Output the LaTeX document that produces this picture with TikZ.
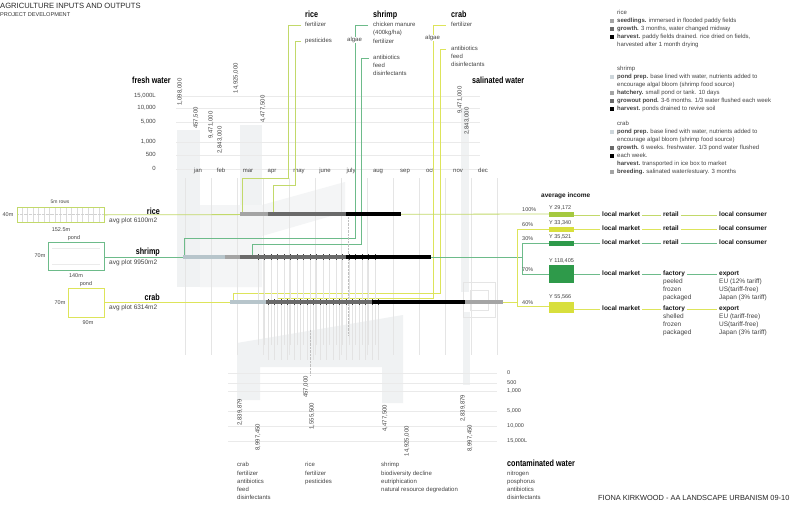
\documentclass[tikz,border=0pt]{standalone}
\usepackage{fontspec}
\setmainfont{Liberation Sans}
\definecolor{ricec}{HTML}{C2D96A}
\definecolor{shrc}{HTML}{6DBB8A}
\definecolor{crabc}{HTML}{DDE45A}
\definecolor{fw}{HTML}{F0F2F3}
\definecolor{pondc}{HTML}{B7C5CB}
\definecolor{lgc}{HTML}{A4A4A4}
\definecolor{dgc}{HTML}{6A6A6A}
\definecolor{gridc}{HTML}{EAEAEA}
\definecolor{txt}{HTML}{444444}
\definecolor{incY}{HTML}{A5C93F}
\definecolor{incYe}{HTML}{D8DF3D}
\definecolor{incG}{HTML}{2E9A4A}
\newcommand\fs[1]{\fontsize{#1}{#1}\selectfont}
\newcommand\hdt[1]{\scalebox{0.8}[1]{\fontsize{9}{9}\selectfont\bfseries #1}}
\begin{document}
\begin{tikzpicture}[x=1pt,y=-1pt,
  tx/.style={inner sep=0pt, anchor=west, font=\fs{6}, text=txt, text height=4.4pt, text depth=1.2pt},
  txe/.style={tx, anchor=east},
  txb/.style={tx, font=\fs{6.5}\bfseries, text=black!90},
  hd/.style={inner sep=0pt, anchor=west, text=black},
  rot/.style={inner sep=0pt, rotate=90, font=\fs{6}, text=txt},
  gl/.style={draw=gridc, line width=0.4pt},
  vl/.style={draw=black!10, line width=0.3pt},
  bar/.style={line width=4pt},
  rl/.style={draw=ricec, line width=0.8pt},
  sl/.style={draw=shrc, line width=0.8pt},
  cl/.style={draw=crabc, line width=0.8pt},
  sq/.style={inner sep=0pt, minimum size=3.6pt},
  wb/.style={fill=white}]
\useasboundingbox (0,0) rectangle (800,509);
\fill[white] (0,0) rectangle (800,509);

% ---------- water usage shapes ----------
\fill[fw] (177,130) rectangle (200,287);
\fill[fw] (240,125) rectangle (262,205);
\fill[fw!75] (200,205) -- (262,205) -- (345,182) -- (345,212) -- (262,236) -- (262,287) -- (200,287) -- cycle;
\fill[fw] (461,108) rectangle (469,292);
\fill[fw] (237,343) -- (403,315) -- (403,403) -- (382,403) -- (382,367) -- (260,367) -- (260,400) -- (237,400) -- cycle;
\fill[fw] (463,312) rectangle (470,385);
\draw[black!10, line width=0.3pt] (463,282) rectangle (495,317) (470,290) rectangle (488,310);

% ---------- grid lines ----------
\foreach \y in {96,108,122,142,155,169} \draw[gl] (176,\y) -- (480,\y);
\foreach \y in {373,383,391,411,426,441} \draw[gl] (228,\y) -- (497,\y);
\foreach \x in {185,211,...,497} \draw[vl] (\x,178) -- (\x,355);

% ---------- title ----------
\node[inner sep=0pt, anchor=west, font=\fs{7.6}, text=black!85] (title) at (0,6) {AGRICULTURE INPUTS AND OUTPUTS};
\node[inner sep=0pt, anchor=west, font=\fs{5.6}, text=black!80] (sub) at (0,14.5) {PROJECT DEVELOPMENT};
\node[inner sep=0pt, anchor=west, font=\fs{7.4}, text=black!85] (foot) at (598,498) {FIONA KIRKWOOD - AA LANDSCAPE URBANISM 09-10};

% ---------- fresh water scale ----------
\node[hd] (fwh) at (132,80) {\hdt{fresh water}};
\foreach \v/\y/\n in {15{,}000L/96/a,10{,}000/108/b,5{,}000/122/c,1{,}000/142/d,500/155/e,0/169/f}
  \node[txe] (fs\n) at (156,\y) {\v};
\node[rot] (n1) at (180,92) {1,098,000};
\node[rot] (n2) at (196,118) {457,500};
\node[rot] (n3) at (211,125) {9,471,000};
\node[rot] (n4) at (220,140) {2,843,000};
\node[rot] (n5) at (236,78) {14,925,000};
\node[rot] (n6) at (263,109) {4,477,500};
\node[rot] (n7) at (460,100) {9,471,000};
\node[rot] (n8) at (467,121) {2,843,000};
\node[hd] (swh) at (472,80) {\hdt{salinated water}};

% ---------- months ----------
\foreach \m/\x in {jan/198,feb/221,mar/248,apr/272,may/299,june/325,july/351,aug/378,sep/405,oct/430,nov/458,dec/483}
  \node[tx, anchor=center] (m\m) at (\x,171) {\m};

% ---------- top inputs ----------
\node[hd] (riceh) at (305,14) {\hdt{rice}};
\node[tx] (rfert) at (305,25) {fertilizer};
\node[tx] (rpest) at (305,41) {pesticides};
\node[hd] (shrh) at (373,15) {\hdt{shrimp}};
\node[tx] (sch) at (373,25) {chicken manure};
\node[tx] (s2) at (373,33) {(400kg/ha)};
\node[tx] (s3) at (373,42) {fertilizer};
\node[tx] (santi) at (373,58) {antibiotics};
\node[tx] (s5) at (373,66) {feed};
\node[tx] (s6) at (373,74) {disinfectants};
\node[hd] (crabh) at (451,14) {\hdt{crab}};
\node[tx] (cfert) at (451,25) {fertilizer};
\node[tx] (canti) at (451,49) {antibiotics};
\node[tx] (c3) at (451,57) {feed};
\node[tx] (c4) at (451,65) {disinfectants};

% input connectors
\draw[rl] ([xshift=-4pt]rfert.west) -| (288,178) -| (242,213);
\draw[rl] ([xshift=-4pt]rpest.west) -| (295,185) -| (273,213);
\draw[sl] ([xshift=-5pt]sch.west) -| (355,238) -| (184,255);
\draw[sl] ([xshift=-4pt]santi.west) -| (361,244) -| (252,255);
\draw[cl] ([xshift=-5pt]cfert.west) -| (433,298) -| (277,300);
\draw[cl] ([xshift=-5pt]canti.west) -| (440,293) -| (233,300);
\node[tx, wb] (salg) at (347,40) {algae};
\node[tx, wb] (calg) at (425,38) {algae};

% ---------- plots ----------
\foreach \x in {22,27.5,...,100} \draw[black!14, line width=0.3pt] (\x,207) -- (\x,222);
\draw[black!18, densely dotted, line width=0.3pt] (17,214.5) -- (104,214.5);
\node[draw=ricec, line width=0.7pt, inner sep=0pt, minimum width=87pt, minimum height=15pt, anchor=north west] (rplot) at (17,207) {};
\node[tx, font=\fs{5}, anchor=center] (r5m) at (60,202) {5m rows};
\node[tx, font=\fs{5.5}, anchor=center] (r40) at (8,215) {40m};
\node[tx, font=\fs{5.5}, anchor=center] (r152) at (61,230) {152.5m};
\node[hd, anchor=east] (riceL) at (160,211) {\hdt{rice}};
\node[tx, font=\fs{6.5}] (ravg) at (109,221) {avg plot 6100m2};

\node[draw=shrc, line width=0.7pt, inner sep=0pt, minimum width=56pt, minimum height=28pt, anchor=north west] (splot) at (48,242) {};
\draw[black!8, line width=0.3pt] (52,248) -- (100,248) (52,264) -- (100,264);
\node[tx, font=\fs{5.5}, anchor=center] (sp) at (74,238) {pond};
\node[tx, font=\fs{5.5}, anchor=center] (s70) at (40,256) {70m};
\node[tx, font=\fs{5.5}, anchor=center] (s140) at (76,276) {140m};
\node[hd, anchor=east] (shrL) at (160,252) {\hdt{shrimp}};
\node[tx, font=\fs{6.5}] (savg) at (109,263) {avg plot 9950m2};

\node[draw=crabc, line width=0.7pt, inner sep=0pt, minimum width=36pt, minimum height=29pt, anchor=north west] (cplot) at (68,288) {};
\node[tx, font=\fs{5.5}, anchor=center] (cp) at (86,284) {pond};
\node[tx, font=\fs{5.5}, anchor=center] (c70) at (60,303) {70m};
\node[tx, font=\fs{5.5}, anchor=center] (c90) at (88,323) {90m};
\node[hd, anchor=east] (crabL) at (160,297) {\hdt{crab}};
\node[tx, font=\fs{6.5}] (cavg) at (109,308) {avg plot 6314m2};

% ---------- timeline ticks ----------
\foreach \x in {258,264.5,...,375} {
  \draw[black!11, line width=0.3pt] (\x,259) -- (\x,345);
  \draw[black!75, line width=0.5pt] (\x,254) -- (\x,260);}
\foreach \x in {268,274.5,...,380} {
  \draw[black!11, line width=0.3pt] (\x,304) -- (\x,360);
  \draw[black!75, line width=0.5pt] (\x,299) -- (\x,305);}
\draw[black!25, densely dotted, line width=0.4pt] (348,217) -- (348,335);
\draw[black!25, densely dotted, line width=0.4pt] (310,330) -- (310,375);

% ---------- main flow lines ----------
\coordinate (riceS) at (240,214);
\coordinate (shrS) at (183,257);
\coordinate (crabS) at (230,302);
\draw[rl] (rplot.east) -- (549,214);
\draw[sl] (splot.east |- shrS) -- (shrS);
\draw[sl] (431,257) -- (522,257);
\draw[sl] (549,243) -| (522,274) -- (549,274);
\draw[cl] (cplot.east |- crabS) -- (crabS);
\draw[cl] (503,302) -- (517,302);
\draw[cl] (549,229) -| (517,306) -- (549,306);

% bars
\draw[bar, lgc] (riceS) -- (268,214);
\draw[bar, dgc] (268,214) -- (346,214);
\draw[bar, black] (346,214) -- (401,214);
\draw[bar, pondc] (shrS) -- (225,257);
\draw[bar, lgc] (225,257) -- (240,257);
\draw[bar, dgc] (240,257) -- (346,257);
\draw[bar, black] (346,257) -- (431,257);
\draw[bar, pondc] (crabS) -- (266,302);
\draw[bar, dgc] (266,302) -- (372,302);
\draw[bar, black] (372,302) -- (465,302);
\draw[bar, lgc] (465,302) -- (503,302);

% ---------- income ----------
\node[txb] (avgi) at (541,196) {average income};
\foreach \p/\y/\n in {100\%/210/a,60\%/225/b,30\%/239/c,70\%/270/d,40\%/303/e}
  \node[tx, font=\fs{5.5}] (pc\n) at (522,\y) {\p};
\fill[incY] (549,212) rectangle (574,217);
\fill[incYe] (549,227) rectangle (574,232);
\fill[incG] (549,241) rectangle (574,246);
\fill[incG] (549,265) rectangle (574,283);
\fill[incYe] (549,302) rectangle (574,313);
\node[tx, font=\fs{5.5}] (ya) at (549,208) {Y 29,172};
\node[tx, font=\fs{5.5}] (yb) at (549,223) {Y 33,340};
\node[tx, font=\fs{5.5}] (yc) at (549,237) {Y 35,521};
\node[tx, font=\fs{5.5}] (yd) at (549,261) {Y 118,405};
\node[tx, font=\fs{5.5}] (ye) at (549,297) {Y 55,566};

\foreach \y/\c/\n in {215/ricec/a,229/crabc/b,243/shrc/c} {
  \node[txb] (lm\n) at (602,\y) {local market};
  \node[txb] (rt\n) at (663,\y) {retail};
  \node[txb] (lc\n) at (719,\y) {local consumer};
  \draw[\c, line width=0.6pt] (574,\y) -- ([xshift=-2pt]lm\n.west);
  \draw[\c, line width=0.6pt] ([xshift=2pt]lm\n.east) -- ([xshift=-2pt]rt\n.west);
  \draw[\c, line width=0.6pt] ([xshift=2pt]rt\n.east) -- ([xshift=-2pt]lc\n.west);}
\foreach \y/\c/\n in {274/shrc/d,309/crabc/e} {
  \node[txb] (lm\n) at (602,\y) {local market};
  \node[txb] (fa\n) at (663,\y) {factory};
  \node[txb] (ex\n) at (719,\y) {export};
  \draw[\c, line width=0.6pt] (574,\y) -- ([xshift=-2pt]lm\n.west);
  \draw[\c, line width=0.6pt] ([xshift=2pt]lm\n.east) -- ([xshift=-2pt]fa\n.west);
  \draw[\c, line width=0.6pt] ([xshift=2pt]fa\n.east) -- ([xshift=-2pt]ex\n.west);}
\node[tx, font=\fs{6.5}] (d1) at (663,282) {peeled};
\node[tx, font=\fs{6.5}] (d2) at (663,290) {frozen};
\node[tx, font=\fs{6.5}] (d3) at (663,298) {packaged};
\node[tx, font=\fs{6.5}] (d4) at (719,282) {EU (12\% tariff)};
\node[tx, font=\fs{6.5}] (d5) at (719,290) {US(tariff-free)};
\node[tx, font=\fs{6.5}] (d6) at (719,298) {Japan (3\% tariff)};
\node[tx, font=\fs{6.5}] (e1) at (663,317) {shelled};
\node[tx, font=\fs{6.5}] (e2) at (663,325) {frozen};
\node[tx, font=\fs{6.5}] (e3) at (663,333) {packaged};
\node[tx, font=\fs{6.5}] (e4) at (719,317) {EU (tariff-free)};
\node[tx, font=\fs{6.5}] (e5) at (719,325) {US(tariff-free)};
\node[tx, font=\fs{6.5}] (e6) at (719,333) {Japan (3\% tariff)};

% ---------- legend ----------
\node[tx] (lg0) at (617,13) {rice};
\node[sq, fill=lgc] (q1) at (612,21) {}; \node[tx] (lg1) at (617,21) {\textbf{seedlings.} immersed in flooded paddy fields};
\node[sq, fill=dgc] (q2) at (612,29) {}; \node[tx] (lg2) at (617,29) {\textbf{growth.} 3 months, water changed midway};
\node[sq, fill=black] (q3) at (612,37) {}; \node[tx] (lg3) at (617,37) {\textbf{harvest.} paddy fields drained. rice dried on fields,};
\node[tx] (lg4) at (617,45) {harvested after 1 month drying};
\node[tx] (lg5) at (617,69) {shrimp};
\node[sq, fill=pondc!70] (q6) at (612,77) {}; \node[tx] (lg6) at (617,77) {\textbf{pond prep.} base lined with water, nutrients added to};
\node[tx] (lg7) at (617,85) {encourage algal bloom (shrimp food source)};
\node[sq, fill=lgc] (q8) at (612,93) {}; \node[tx] (lg8) at (617,93) {\textbf{hatchery.} small pond or tank. 10 days};
\node[sq, fill=dgc] (q9) at (612,101) {}; \node[tx] (lg9) at (617,101) {\textbf{growout pond.} 3-6 months. 1/3 water flushed each week};
\node[sq, fill=black] (q10) at (612,109) {}; \node[tx] (lg10) at (617,109) {\textbf{harvest.} ponds drained to revive soil};
\node[tx] (lg11) at (617,124) {crab};
\node[sq, fill=pondc!70] (q12) at (612,132) {}; \node[tx] (lg12) at (617,132) {\textbf{pond prep.} base lined with water, nutrients added to};
\node[tx] (lg13) at (617,140) {encourage algal bloom (shrimp food source)};
\node[sq, fill=dgc] (q14) at (612,148) {}; \node[tx] (lg14) at (617,148) {\textbf{growth.} 6 weeks. freshwater. 1/3 pond water flushed};
\node[sq, fill=black] (q15) at (612,156) {}; \node[tx] (lg15) at (617,156) {each week.};
\node[tx] (lg16) at (617,164) {\textbf{harvest.} transported in ice box to market};
\node[sq, fill=lgc] (q17) at (612,172) {}; \node[tx] (lg17) at (617,172) {\textbf{breeding.} salinated water/estuary. 3 months};

% ---------- contaminated water ----------
\foreach \v/\y/\n in {0/373/a,500/383/b,1{,}000/391/c,5{,}000/411/d,10{,}000/426/e,15{,}000L/441/f}
  \node[tx, font=\fs{5.5}] (cs\n) at (507,\y) {\v};
\node[rot] (b1) at (240,412) {2,839,879};
\node[rot] (b2) at (258,437) {8,997,450};
\node[rot] (b3) at (306,387) {457,000};
\node[rot] (b4) at (312,416) {1,555,500};
\node[rot] (b5) at (385,418) {4,477,500};
\node[rot] (b6) at (407,441) {14,925,000};
\node[rot] (b7) at (463,408) {2,839,879};
\node[rot] (b8) at (470,438) {8,997,450};
\node[tx] (bc0) at (237,465) {crab};
\node[tx] (bc1) at (237,474) {fertilizer};
\node[tx] (bc2) at (237,482) {antibiotics};
\node[tx] (bc3) at (237,490) {feed};
\node[tx] (bc4) at (237,498) {disinfectants};
\node[tx] (br0) at (305,465) {rice};
\node[tx] (br1) at (305,474) {fertilizer};
\node[tx] (br2) at (305,482) {pesticides};
\node[tx] (bs0) at (381,465) {shrimp};
\node[tx] (bs1) at (381,474) {biodiversity decline};
\node[tx] (bs2) at (381,482) {eutriphication};
\node[tx] (bs3) at (381,490) {natural resource degredation};
\node[hd] (cwh) at (507,463) {\hdt{contaminated water}};
\node[tx] (bw1) at (507,474) {nitrogen};
\node[tx] (bw2) at (507,482) {posphorus};
\node[tx] (bw3) at (507,490) {antibiotics};
\node[tx] (bw4) at (507,498) {disinfectants};
\end{tikzpicture}
\end{document}
